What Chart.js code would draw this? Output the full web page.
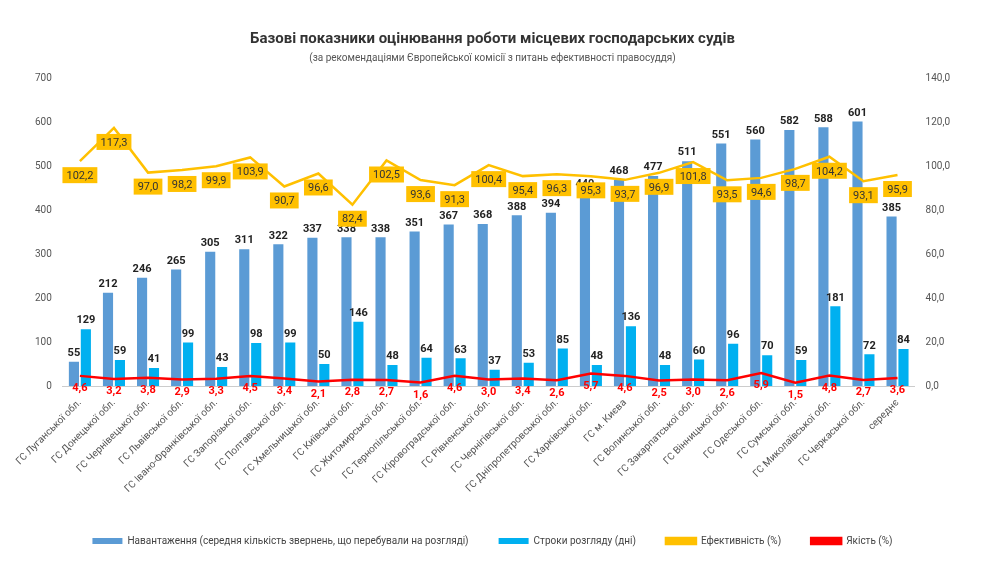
<!DOCTYPE html>
<html><head><meta charset="utf-8">
<script src="https://cdn.jsdelivr.net/npm/chart.js@4/dist/chart.umd.min.js"></script>
<style>html,body{margin:0;background:#fff}#w{width:1008px;height:586px}</style>
</head><body><div id="w"><canvas id="c"></canvas></div>
<script>
const categories=["ГС Луганської обл.","ГС Донецької обл.","ГС Чернівецької обл.","ГС Львівської обл.","ГС Івано-Франківської обл.","ГС Запорізької обл.","ГС Полтавської обл.","ГС Хмельницької обл.","ГС Київської обл.","ГС Житомирської обл.","ГС Тернопільської обл.","ГС Кіровоградської обл.","ГС Рівненської обл.","ГС Чернігівської обл.","ГС Дніпропетровської обл.","ГС Харківської обл.","ГС м. Києва","ГС Волинської обл.","ГС Закарпатської обл.","ГС Вінницької обл.","ГС Одеської обл.","ГС Сумської обл.","ГС Миколаївської обл.","ГС Черкаської обл.","середнє"];
const load=[55,212,246,265,305,311,322,337,338,338,351,367,368,388,394,440,468,477,511,551,560,582,588,601,385];
const terms=[129,59,41,99,43,98,99,50,146,48,64,63,37,53,85,48,136,48,60,96,70,59,181,72,84];
const efficiency=[102.2,117.3,97.0,98.2,99.9,103.9,90.7,96.6,82.4,102.5,93.6,91.3,100.4,95.4,96.3,95.3,93.7,96.9,101.8,93.5,94.6,98.7,104.2,93.1,95.9];
const quality=[4.6,3.2,3.8,2.9,3.3,4.5,3.4,2.1,2.8,2.7,1.6,4.6,3.0,3.4,2.6,5.7,4.6,2.5,3.0,2.6,5.9,1.5,4.8,2.7,3.6];
const fmt=v=>v.toFixed(1).replace('.',',');
const labelsPlugin={id:'lbl',afterDatasetsDraw(ch){
  const ctx=ch.ctx;ctx.save();ctx.textAlign='center';
  ch.getDatasetMeta(0).data.forEach((e,i)=>{ctx.font='bold 11px Roboto';ctx.fillStyle='#222';ctx.textBaseline='bottom';ctx.fillText(load[i],e.x,e.y-3);});
  ch.getDatasetMeta(1).data.forEach((e,i)=>{ctx.font='bold 11px Roboto';ctx.fillStyle='#222';ctx.textBaseline='bottom';ctx.fillText(terms[i],e.x,e.y-3);});
  ch.getDatasetMeta(2).data.forEach((e,i)=>{ctx.font='11px Roboto';const t=fmt(efficiency[i]);const w=ctx.measureText(t).width+8;const y=e.y+14;
    ctx.fillStyle='#FFC000';ctx.fillRect(e.x-w/2,y-8,w,16);ctx.fillStyle='#333';ctx.textBaseline='middle';ctx.fillText(t,e.x,y+1);});
  ch.getDatasetMeta(3).data.forEach((e,i)=>{ctx.font='bold 11px Roboto';ctx.fillStyle='#FF0000';ctx.textBaseline='top';ctx.fillText(fmt(quality[i]),e.x,e.y+7);});
  ctx.restore();}};
new Chart(document.getElementById('c'),{
 data:{labels:categories,datasets:[
  {type:'bar',label:'Навантаження (середня кількість звернень, що перебували на розгляді)',data:load,backgroundColor:'#5B9BD5',yAxisID:'y',order:3,categoryPercentage:0.7,barPercentage:0.85},
  {type:'bar',label:'Строки розгляду (дні)',data:terms,backgroundColor:'#00B0F0',yAxisID:'y',order:3,categoryPercentage:0.7,barPercentage:0.85},
  {type:'line',label:'Ефективність (%)',data:efficiency,borderColor:'#FFC000',backgroundColor:'#FFC000',borderWidth:2.5,pointRadius:0,yAxisID:'y1',order:1,tension:0},
  {type:'line',label:'Якість (%)',data:quality,borderColor:'#FF0000',backgroundColor:'#FF0000',borderWidth:2.5,pointRadius:0,yAxisID:'y1',order:0,tension:0}
 ]},
 options:{responsive:true,maintainAspectRatio:false,animation:false,
  layout:{padding:{left:32,right:55,top:8,bottom:30}},
  plugins:{title:{display:true,text:'Базові показники оцінювання роботи місцевих господарських судів',font:{family:'Roboto',size:15,weight:'bold'},color:'#333',padding:{top:22,bottom:4}},
   subtitle:{display:true,text:'(за рекомендаціями Європейської комісії з питань ефективності правосуддя)',font:{family:'Roboto',size:10},color:'#555',padding:{bottom:14}},
   legend:{position:'bottom',labels:{sort:(a,b)=>a.datasetIndex-b.datasetIndex,font:{family:'Roboto',size:10},color:'#444',boxWidth:30,boxHeight:6,padding:30}},
   tooltip:{enabled:false}},
  scales:{
   x:{grid:{display:false},border:{color:'#ccc'},afterFit:s=>{s.height=120;},ticks:{font:{family:'Roboto',size:10},color:'#555',maxRotation:45,minRotation:45,autoSkip:false}},
   y:{min:0,max:700,ticks:{stepSize:100,font:{family:'Roboto',size:10},color:'#555'},grid:{display:false},border:{display:false}},
   y1:{position:'right',min:0,max:140,ticks:{stepSize:20,callback:v=>fmt(v),font:{family:'Roboto',size:10},color:'#555'},grid:{display:false},border:{display:false}}
  }}
 ,plugins:[labelsPlugin]});
</script></body></html>
